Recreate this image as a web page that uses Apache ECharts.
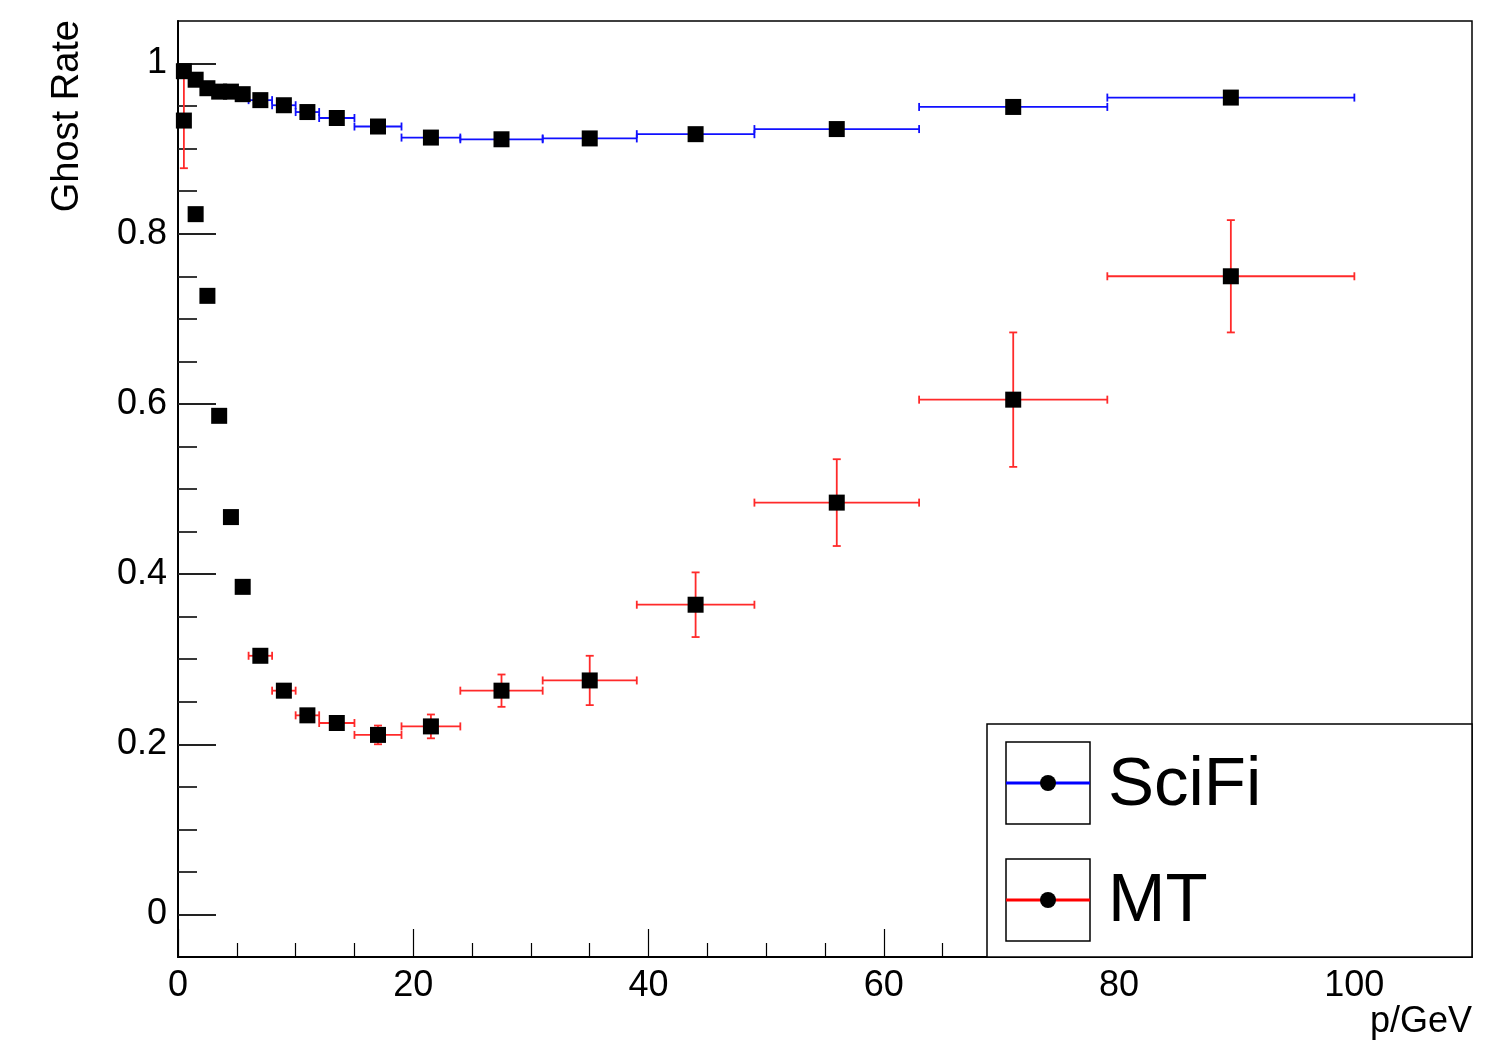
<!DOCTYPE html>
<html>
<head>
<meta charset="utf-8">
<title>Ghost Rate vs p</title>
<script src="https://cdn.jsdelivr.net/npm/echarts@6/dist/echarts.min.js"></script>
<style>
  html, body { margin: 0; padding: 0; background: #fff; }
  #chart { width: 1490px; height: 1042px; }
</style>
</head>
<body>
<div id="chart"></div>
<script>
// Momentum bins (GeV): centre, lower and upper edge
const pCenter = [0.5, 1.5, 2.5, 3.5, 4.5, 5.5, 7, 9, 11, 13.5, 17, 21.5, 27.5, 35, 44, 56, 71, 89.5];
const pLow    = [0, 1, 2, 3, 4, 5, 6, 8, 10, 12, 15, 19, 24, 31, 39, 49, 63, 79];
const pHigh   = [1, 2, 3, 4, 5, 6, 8, 10, 12, 15, 19, 24, 31, 39, 49, 63, 79, 100];

// Ghost rate per bin and its statistical uncertainty
const sciFiRate = [0.991, 0.981, 0.971, 0.967, 0.967, 0.964, 0.957, 0.951, 0.943, 0.936, 0.926, 0.913, 0.911, 0.912, 0.917, 0.923, 0.949, 0.960];
const sciFiErr  = [0.003, 0.002, 0.002, 0.002, 0.002, 0.002, 0.002, 0.002, 0.002, 0.002, 0.002, 0.002, 0.002, 0.002, 0.002, 0.002, 0.003, 0.003];
const mtRate    = [0.933, 0.823, 0.727, 0.586, 0.467, 0.385, 0.304, 0.263, 0.234, 0.225, 0.211, 0.221, 0.263, 0.275, 0.364, 0.484, 0.605, 0.750];
const mtErr     = [0.056, 0.004, 0.004, 0.004, 0.005, 0.005, 0.006, 0.006, 0.007, 0.008, 0.011, 0.014, 0.019, 0.029, 0.038, 0.051, 0.079, 0.066];

// Axis ticks and labels
const xMajor = [0, 20, 40, 60, 80, 100];
const xMinor = [5, 10, 15, 25, 30, 35, 45, 50, 55, 65, 70, 75, 85, 90, 95, 105];
const yMajor = [0, 0.2, 0.4, 0.6, 0.8, 1];
const yMinor = [0.05, 0.1, 0.15, 0.25, 0.3, 0.35, 0.45, 0.5, 0.55, 0.65, 0.7, 0.75, 0.85, 0.9, 0.95];

const FONT = '"Liberation Sans", Arial, Helvetica, sans-serif';

function rows(rate, err) {
  return pCenter.map((c, i) => [c, pLow[i], pHigh[i], rate[i], err[i]]);
}

// Horizontal bin-width bar and vertical error bar, each with end caps
function errorBars(color) {
  return function (params, api) {
    const x = api.value(0), lo = api.value(1), hi = api.value(2);
    const y = api.value(3), e = api.value(4);
    const pl = api.coord([lo, y]);
    const pr = api.coord([hi, y]);
    const style = { stroke: color, lineWidth: 1.8, fill: null };
    const cap = 4;
    const children = [
      { type: 'line', shape: { x1: pl[0], y1: pl[1], x2: pr[0], y2: pr[1] }, style },
      { type: 'line', shape: { x1: pl[0], y1: pl[1] - cap, x2: pl[0], y2: pl[1] + cap }, style },
      { type: 'line', shape: { x1: pr[0], y1: pr[1] - cap, x2: pr[0], y2: pr[1] + cap }, style }
    ];
    if (e > 0) {
      const pt = api.coord([x, y + e]);
      const pb = api.coord([x, y - e]);
      children.push(
        { type: 'line', shape: { x1: pt[0], y1: pt[1], x2: pb[0], y2: pb[1] }, style },
        { type: 'line', shape: { x1: pt[0] - cap, y1: pt[1], x2: pt[0] + cap, y2: pt[1] }, style },
        { type: 'line', shape: { x1: pb[0] - cap, y1: pb[1], x2: pb[0] + cap, y2: pb[1] }, style }
      );
    }
    return { type: 'group', children };
  };
}

const chart = echarts.init(document.getElementById('chart'), null, { renderer: 'canvas' });

const LZ = 100; // legend drawn above axes and data
const option = {
  backgroundColor: '#fff',
  animation: false,
  grid: {
    left: 178, right: 18, top: 21, bottom: 85,
    show: true, borderColor: '#000', borderWidth: 1.5, backgroundColor: 'transparent'
  },
  xAxis: [
    {
      type: 'value', min: 0, max: 110, position: 'bottom',
      axisLine: { show: true, onZero: false, lineStyle: { color: '#000', width: 2 } },
      axisTick: { show: true, inside: true, length: 28, customValues: xMajor, lineStyle: { color: '#000', width: 1.2 } },
      axisLabel: { show: true, customValues: xMajor, margin: 11, color: '#000', fontFamily: FONT, fontSize: 36 },
      splitLine: { show: false }
    },
    {
      type: 'value', min: 0, max: 110, position: 'bottom',
      axisLine: { show: false, onZero: false },
      axisTick: { show: true, inside: true, length: 14, customValues: xMinor, lineStyle: { color: '#000', width: 1.2 } },
      axisLabel: { show: false },
      splitLine: { show: false }
    }
  ],
  yAxis: [
    {
      type: 'value', min: -0.05, max: 1.05, position: 'left',
      axisLine: { show: true, onZero: false, lineStyle: { color: '#000', width: 2 } },
      axisTick: { show: true, inside: true, length: 38, customValues: yMajor, lineStyle: { color: '#222', width: 1.8 } },
      axisLabel: { show: true, customValues: yMajor, margin: 11, color: '#000', fontFamily: FONT, fontSize: 36,
        padding: [6, 0, 0, 0],
        formatter: v => String(Math.round(v * 10) / 10) },
      splitLine: { show: false }
    },
    {
      type: 'value', min: -0.05, max: 1.05, position: 'left',
      axisLine: { show: false, onZero: false },
      axisTick: { show: true, inside: true, length: 19, customValues: yMinor, lineStyle: { color: '#222', width: 1.8 } },
      axisLabel: { show: false },
      splitLine: { show: false }
    }
  ],
  series: [
    {
      name: 'SciFi errors', type: 'custom', xAxisIndex: 0, yAxisIndex: 0,
      renderItem: errorBars('#1010ff'), data: rows(sciFiRate, sciFiErr),
      encode: { x: [0, 1, 2], y: 3 }, clip: true, z: 2, silent: true
    },
    {
      name: 'MT errors', type: 'custom', xAxisIndex: 0, yAxisIndex: 0,
      renderItem: errorBars('#ff2a2a'), data: rows(mtRate, mtErr),
      encode: { x: [0, 1, 2], y: 3 }, clip: true, z: 2, silent: true
    },
    {
      name: 'SciFi', type: 'scatter', xAxisIndex: 0, yAxisIndex: 0,
      symbol: 'rect', symbolSize: 16, itemStyle: { color: '#000', opacity: 1 },
      data: pCenter.map((c, i) => [c, sciFiRate[i]]), z: 3
    },
    {
      name: 'MT', type: 'scatter', xAxisIndex: 0, yAxisIndex: 0,
      symbol: 'rect', symbolSize: 16, itemStyle: { color: '#000', opacity: 1 },
      data: pCenter.map((c, i) => [c, mtRate[i]]), z: 3
    }
  ],
  graphic: [
    // axis titles
    {
      type: 'text', x: 68, y: 20, rotation: Math.PI / 2, z: 50,
      style: { text: 'Ghost Rate', align: 'right', verticalAlign: 'middle', fill: '#000', font: '38px ' + FONT }
    },
    {
      type: 'text', x: 1472, y: 1022, z: 50,
      style: { text: 'p/GeV', align: 'right', verticalAlign: 'middle', fill: '#000', font: '36px ' + FONT }
    },
    // legend box
    { type: 'rect', z: LZ, shape: { x: 987, y: 724, width: 485, height: 233 }, style: { fill: '#fff', stroke: '#000', lineWidth: 1.5 } },
    { type: 'rect', z: LZ + 1, shape: { x: 1006, y: 742, width: 84, height: 82 }, style: { fill: '#fff', stroke: '#000', lineWidth: 1.5 } },
    { type: 'line', z: LZ + 2, shape: { x1: 1006, y1: 783, x2: 1090, y2: 783 }, style: { stroke: '#0000ff', lineWidth: 3 } },
    { type: 'circle', z: LZ + 3, shape: { cx: 1048, cy: 783, r: 8 }, style: { fill: '#000' } },
    { type: 'text', z: LZ + 1, x: 1108, y: 786, style: { text: 'SciFi', align: 'left', verticalAlign: 'middle', fill: '#000', font: '69px ' + FONT } },
    { type: 'rect', z: LZ + 1, shape: { x: 1006, y: 859, width: 84, height: 82 }, style: { fill: '#fff', stroke: '#000', lineWidth: 1.5 } },
    { type: 'line', z: LZ + 2, shape: { x1: 1006, y1: 900, x2: 1090, y2: 900 }, style: { stroke: '#ff0000', lineWidth: 3 } },
    { type: 'circle', z: LZ + 3, shape: { cx: 1048, cy: 900, r: 8 }, style: { fill: '#000' } },
    { type: 'text', z: LZ + 1, x: 1108, y: 902, style: { text: 'MT', align: 'left', verticalAlign: 'middle', fill: '#000', font: '69px ' + FONT } }
  ]
};

chart.setOption(option);
</script>
</body>
</html>
